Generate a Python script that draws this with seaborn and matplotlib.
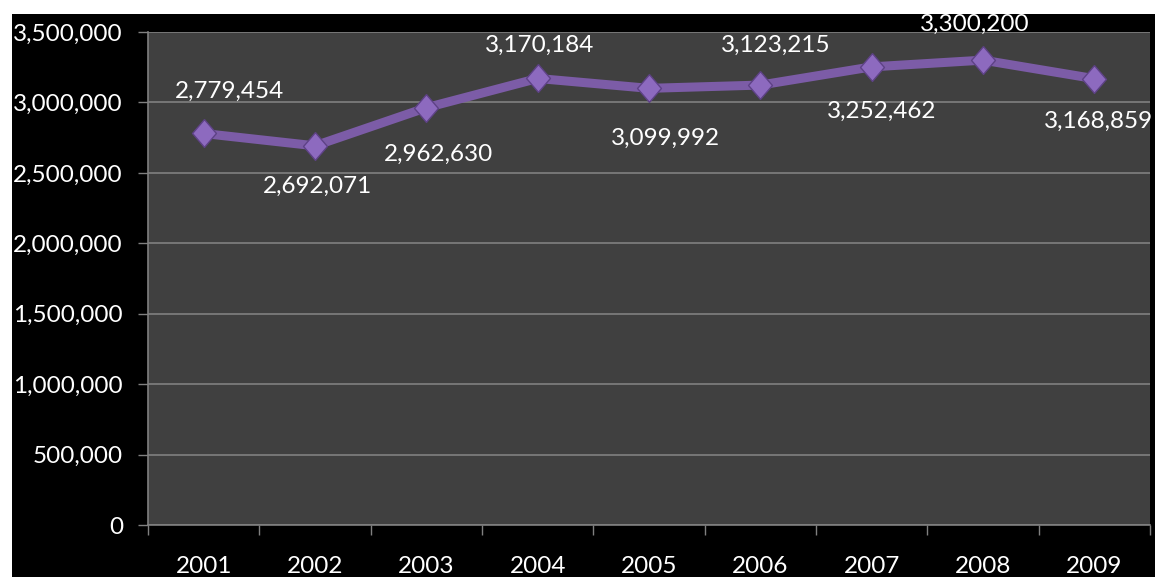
import pandas as pd
import matplotlib
matplotlib.use("Agg")
import matplotlib.pyplot as plt
import matplotlib.ticker as mticker
from matplotlib.patches import Rectangle
import seaborn as sns

years = ["2001", "2002", "2003", "2004", "2005", "2006", "2007", "2008", "2009"]
values = [2779454, 2692071, 2962630, 3170184, 3099992, 3123215, 3252462, 3300200, 3168859]
# label offsets from the point (pixels, +y = up)
label_dx = [26, 3, 12, 2, 16, 15, 10, -8, 4]
label_dy = [45, -38, -44, 36, -47, 42, -42, 38, -40]

df = pd.DataFrame({"year": years, "value": values})

sns.set_style("dark")
plt.rcParams["font.family"] = ["Lato", "DejaVu Sans"]

fig = plt.figure(figsize=(11.55, 5.77), dpi=100, facecolor="white")
# black chart area (white strip at top and left)
fig.patches.append(Rectangle((12 / 1155, 0), 1, 1 - 14 / 577, transform=fig.transFigure,
                             facecolor="black", edgecolor="none", zorder=-10))

ax = fig.add_axes([148 / 1155, 52 / 577, 1002 / 1155, 493 / 577])
ax.set_facecolor("#404040")

# slightly tall diamond like the Excel marker
diamond = [(0, 1), (0.86, 0), (0, -1), (-0.86, 0), (0, 1)]

x = list(range(len(years)))
sns.lineplot(x=x, y=df["value"], ax=ax, color="#7c5ca7", linewidth=6.5,
             marker=diamond, markersize=20, markerfacecolor="#8d6abf",
             markeredgecolor="#5e4286", markeredgewidth=1, zorder=3)

px = 72 / 100  # pixels -> points
for xi, v, dx, dy in zip(x, values, label_dx, label_dy):
    # baseline sits half a cap height below the visual centre
    ax.annotate(f"{v:,}", (xi, v), xytext=(dx * px, (dy - 9) * px),
                textcoords="offset points", ha="center", va="baseline",
                color="white", fontsize=17.5, zorder=4, annotation_clip=False)

ax.set_xlim(-0.5, len(years) - 0.5)
ax.set_ylim(0, 3500000)
ax.yaxis.set_major_locator(mticker.MultipleLocator(500000))
ax.yaxis.set_major_formatter(mticker.FuncFormatter(lambda v, p: f"{int(v):,}"))
ax.set_xticks(x)
ax.set_xticklabels(years)
ax.set_xticks([i - 0.5 for i in range(len(years) + 1)], minor=True)

ax.grid(axis="y", color="#808080", linewidth=1.2)
ax.grid(axis="x", visible=False)
ax.set_xlabel("")
ax.set_ylabel("")

for s in ["top", "right"]:
    ax.spines[s].set_visible(False)
for s in ["left", "bottom"]:
    ax.spines[s].set_visible(True)
    ax.spines[s].set_color("#808080")
    ax.spines[s].set_linewidth(1.2)

ax.tick_params(axis="y", which="major", length=7, width=1, color="#808080",
               labelsize=17.5, pad=11, left=True)
ax.tick_params(axis="y", labelcolor="white")
ax.tick_params(axis="x", which="major", length=0, labelsize=17.5, labelcolor="white", pad=22)
ax.tick_params(axis="x", which="minor", length=7, width=1, color="#808080", bottom=True)

fig.savefig("out.png", dpi=100, facecolor=fig.get_facecolor())
